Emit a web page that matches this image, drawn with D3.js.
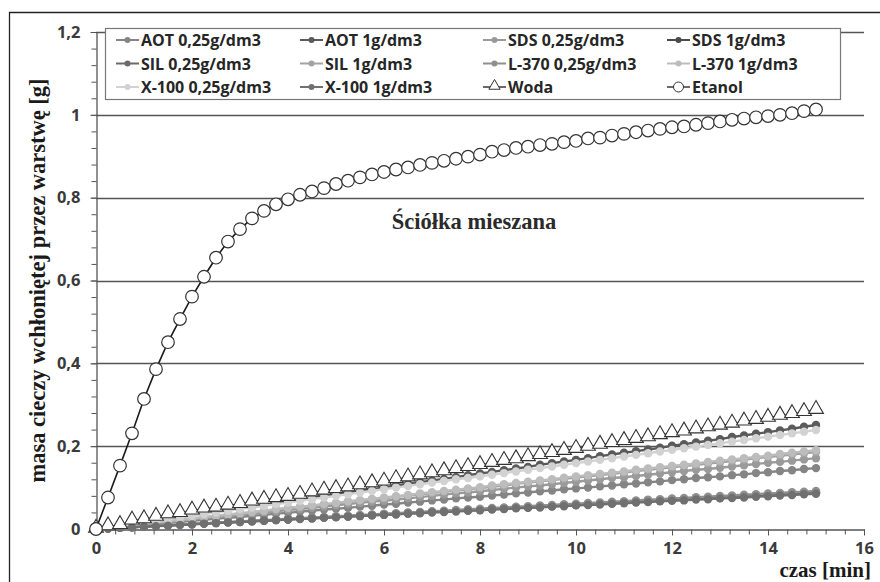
<!DOCTYPE html>
<html><head><meta charset="utf-8">
<script src="https://cdn.jsdelivr.net/npm/d3@7"></script>
<style>body{margin:0;background:#fff}svg{display:block}</style>
</head><body>
<svg id="c" width="880" height="582"></svg>
<script>
const timeStep = 0.25;
const yTicks = [0, 0.2, 0.4, 0.6, 0.8, 1.0, 1.2];
const xTicks = [0, 2, 4, 6, 8, 10, 12, 14, 16];
const seriesNames = ["AOT 0,25g/dm3","AOT 1g/dm3","SDS 0,25g/dm3","SDS 1g/dm3","SIL 0,25g/dm3","SIL 1g/dm3","L-370 0,25g/dm3","L-370 1g/dm3","X-100 0,25g/dm3","X-100 1g/dm3","Woda","Etanol"];

const aot025 = [0,.002,.005,.007,.010,.012,.015,.017,.020,.022,.025,.027,.029,.032,.034,.037,.039,.042,.044,.047,.049,.051,.054,.056,.059,.061,.064,.066,.069,.071,.074,.076,.078,.081,.083,.086,.088,.091,.093,.096,.098,.100,.103,.105,.108,.110,.113,.115,.118,.120,.123,.125,.127,.130,.132,.135,.137,.140,.142,.145,.147];
const aot1 = [0,.004,.008,.013,.017,.021,.025,.029,.033,.038,.042,.046,.050,.054,.059,.063,.067,.071,.075,.079,.084,.088,.092,.096,.100,.105,.109,.113,.117,.121,.125,.130,.134,.138,.142,.146,.150,.155,.159,.163,.167,.171,.176,.180,.184,.188,.192,.196,.201,.205,.209,.213,.217,.222,.226,.230,.234,.238,.242,.247,.251];
const sds025 = [0,.003,.006,.009,.011,.014,.017,.020,.023,.026,.029,.031,.034,.037,.040,.043,.046,.048,.051,.054,.057,.060,.063,.066,.068,.071,.074,.077,.080,.083,.086,.088,.091,.094,.097,.100,.103,.105,.108,.111,.114,.117,.120,.123,.125,.128,.131,.134,.137,.140,.143,.145,.148,.151,.154,.157,.160,.162,.165,.168,.171];
const sds1 = [0,.001,.003,.004,.006,.007,.009,.010,.012,.013,.015,.016,.017,.019,.020,.022,.023,.025,.026,.028,.029,.030,.032,.033,.035,.036,.038,.039,.041,.042,.044,.045,.046,.048,.049,.051,.052,.054,.055,.057,.058,.059,.061,.062,.064,.065,.067,.068,.070,.071,.073,.074,.075,.077,.078,.080,.081,.083,.084,.086,.087];
const sil025 = [0,.001,.003,.004,.006,.007,.009,.010,.012,.013,.015,.016,.018,.019,.021,.022,.024,.025,.027,.028,.030,.031,.033,.034,.036,.037,.039,.040,.042,.043,.045,.046,.047,.049,.050,.052,.053,.055,.056,.058,.059,.061,.062,.064,.065,.067,.068,.070,.071,.073,.074,.076,.077,.079,.080,.082,.083,.085,.086,.088,.089];
const sil1 = [0,.003,.006,.009,.012,.016,.019,.022,.025,.028,.031,.034,.037,.040,.043,.047,.050,.053,.056,.059,.062,.065,.068,.071,.074,.078,.081,.084,.087,.090,.093,.096,.099,.102,.105,.109,.112,.115,.118,.121,.124,.127,.130,.133,.136,.140,.143,.146,.149,.152,.155,.158,.161,.164,.167,.171,.174,.177,.180,.183,.186];
const l370025 = [0,.002,.003,.005,.006,.008,.009,.011,.012,.014,.015,.017,.018,.020,.021,.023,.025,.026,.028,.029,.031,.032,.034,.035,.037,.038,.040,.041,.043,.044,.046,.048,.049,.051,.052,.054,.055,.057,.058,.060,.061,.063,.064,.066,.067,.069,.071,.072,.074,.075,.077,.078,.080,.081,.083,.084,.086,.087,.089,.090,.092];
const l3701 = [0,.003,.006,.010,.013,.016,.019,.022,.025,.029,.032,.035,.038,.041,.044,.048,.051,.054,.057,.060,.063,.067,.070,.073,.076,.079,.082,.086,.089,.092,.095,.098,.101,.105,.108,.111,.114,.117,.120,.124,.127,.130,.133,.136,.139,.143,.146,.149,.152,.155,.158,.162,.165,.168,.171,.174,.177,.181,.184,.187,.190];
const x100025 = [0,.004,.008,.012,.016,.020,.024,.028,.032,.036,.040,.044,.048,.052,.056,.060,.064,.068,.072,.076,.080,.084,.088,.092,.096,.100,.104,.108,.112,.116,.120,.123,.127,.131,.135,.139,.143,.147,.151,.155,.159,.163,.167,.171,.175,.179,.183,.187,.191,.195,.199,.203,.207,.211,.215,.219,.223,.227,.231,.235,.239];
const x1001 = [0,.001,.003,.004,.006,.007,.008,.010,.011,.013,.014,.016,.017,.018,.020,.021,.023,.024,.025,.027,.028,.030,.031,.033,.034,.035,.037,.038,.040,.041,.042,.044,.045,.047,.048,.050,.051,.052,.054,.055,.057,.058,.059,.061,.062,.064,.065,.067,.068,.069,.071,.072,.074,.075,.076,.078,.079,.081,.082,.084,.085];
const woda = [0,.006,.009,.020,.023,.029,.035,.038,.044,.049,.051,.056,.060,.066,.070,.074,.077,.082,.088,.092,.096,.100,.105,.110,.114,.120,.124,.129,.134,.139,.144,.149,.154,.159,.164,.168,.173,.178,.183,.188,.193,.198,.203,.207,.212,.217,.221,.226,.231,.235,.240,.245,.249,.254,.259,.263,.268,.273,.277,.282,.287];
const etanol = [0,.076,.153,.231,.314,.386,.451,.507,.561,.609,.655,.694,.724,.750,.768,.784,.796,.807,.815,.823,.833,.841,.849,.856,.862,.868,.873,.879,.884,.889,.894,.899,.904,.911,.915,.920,.923,.927,.930,.934,.937,.943,.945,.950,.954,.958,.962,.966,.970,.972,.976,.980,.984,.988,.991,.994,.997,1.000,1.004,1.009,1.013];

const seriesValues = [aot025, aot1, sds025, sds1, sil025, sil1, l370025, l3701, x100025, x1001, woda, etanol];
const seriesColors = ["#858585","#5a5a5a","#9a9a9a","#4a4a4a","#6a6a6a","#a3a3a3","#8f8f8f","#bcbcbc","#d2d2d2","#707070","#1a1a1a","#1a1a1a"];
const seriesMarkers = ["dot","dot","dot","dot","dot","dot","dot","dot","dot","dot","tri","circ"];

const svg = d3.select("#c");
const x = d3.scaleLinear().domain([0,16]).range([96,864]);
const y = d3.scaleLinear().domain([0,1.2]).range([529,32]);
const fmt = d => String(+d.toFixed(1)).replace(".", ",");
const sansB = "'Open Sans', 'Liberation Sans', sans-serif";
const serifB = "'Liberation Serif', 'Times New Roman', serif";

// outer frame
svg.append("path").attr("d","M9.5,600V12.5H900").attr("fill","none").attr("stroke","#222").attr("stroke-width",1.3);

// gridlines
svg.append("g").selectAll("line").data(yTicks.filter(d=>d>0)).join("line")
  .attr("x1",x(0)).attr("x2",x(16)).attr("y1",d=>Math.round(y(d))+0.5).attr("y2",d=>Math.round(y(d))+0.5)
  .attr("stroke","#555").attr("stroke-width",1.3);

// minor ticks
const gyMinor = svg.append("g").attr("transform","translate(96.5,0)")
  .call(d3.axisLeft(y).tickValues(d3.range(0,31).map(i=>+(i*0.04).toFixed(2))).tickSize(5).tickFormat(""));
const gxMinor = svg.append("g").attr("transform",`translate(0,${Math.round(y(0))+0.5})`)
  .call(d3.axisBottom(x).tickValues(d3.range(0,41).map(i=>+(i*0.4).toFixed(1))).tickSize(5).tickFormat(""));
[gyMinor,gxMinor].forEach(g=>{g.selectAll("line").attr("stroke","#555");g.select(".domain").remove();});

// axes
const gy = svg.append("g").attr("transform","translate(96.5,0)")
  .call(d3.axisLeft(y).tickValues(yTicks).tickFormat(fmt).tickSize(6).tickPadding(10).tickSizeOuter(0));
const gx = svg.append("g").attr("transform",`translate(0,${Math.round(y(0))+0.5})`)
  .call(d3.axisBottom(x).tickValues(xTicks).tickFormat(fmt).tickSize(6).tickPadding(7).tickSizeOuter(0));
[gy,gx].forEach(g=>{
  g.select(".domain").attr("stroke","#555").attr("stroke-width",1.3);
  g.selectAll(".tick line").attr("stroke","#555");
  g.selectAll("text").attr("font-family",sansB).attr("font-weight",700).attr("font-size",16.5).attr("fill","#3a3a3a");
});

// series
const line = d3.line().x((d,i)=>x(i*timeStep)).y(d=>y(d));
const tri = d3.symbol().type(d3.symbolTriangle).size(95);
seriesValues.forEach((vals,si)=>{
  const g = svg.append("g");
  const m = seriesMarkers[si];
  g.append("path").attr("d",line(vals)).attr("fill","none").attr("stroke",seriesColors[si]).attr("stroke-width", m==="dot"?2.4:1.6);
  if(m==="dot"){
    g.selectAll("circle").data(vals).join("circle").attr("cx",(d,i)=>x(i*timeStep)).attr("cy",d=>y(d)).attr("r",4.2).attr("fill",seriesColors[si]);
  } else if(m==="tri"){
    g.selectAll("path.m").data(vals).join("path").attr("class","m").attr("d",tri)
      .attr("transform",(d,i)=>`translate(${x(i*timeStep)},${y(d)-1})`).attr("fill","#fff").attr("stroke","#333").attr("stroke-width",1.1);
  } else {
    g.selectAll("circle").data(vals).join("circle").attr("cx",(d,i)=>x(i*timeStep)).attr("cy",d=>y(d)).attr("r",6.3).attr("fill","#fff").attr("stroke","#333").attr("stroke-width",1.2);
  }
});

// annotation
svg.append("text").attr("x",474).attr("y",229).attr("text-anchor","middle").attr("font-family",serifB).attr("font-weight",700).attr("font-size",22.5).attr("fill","#2a2a2a").text("Ściółka mieszana");

// axis titles
svg.append("text").attr("transform",`translate(45,${(y(0)+y(1.2))/2}) rotate(-90)`).attr("text-anchor","middle")
  .attr("font-family",serifB).attr("font-weight",700).attr("font-size",22.5).attr("fill","#1a1a1a").text("masa cieczy wchłoniętej przez warstwę [g]");
svg.append("text").attr("x",871).attr("y",577).attr("text-anchor","end")
  .attr("font-family",serifB).attr("font-weight",700).attr("font-size",21).attr("fill","#1a1a1a").text("czas [min]");

// legend
const lg = svg.append("g");
lg.append("rect").attr("x",105.5).attr("y",28.5).attr("width",735).attr("height",71).attr("fill","#fff").attr("stroke","#777").attr("stroke-width",1.2);
const colX = [116, 300, 483, 667];
const rowY = [40, 63.5, 87];
seriesNames.forEach((name,i)=>{
  const cx = colX[i%4], cy = rowY[Math.floor(i/4)];
  const g = lg.append("g").attr("transform",`translate(${cx},${cy})`);
  const m = seriesMarkers[i];
  g.append("line").attr("x1",0).attr("x2",23).attr("stroke",seriesColors[i]).attr("stroke-width",m==="dot"?2:1.3);
  if(m==="dot") g.append("circle").attr("cx",11.5).attr("r",3).attr("fill",seriesColors[i]);
  else if(m==="tri") g.append("path").attr("d",d3.symbol().type(d3.symbolTriangle).size(55)()).attr("transform","translate(11.5,-1)").attr("fill","#fff").attr("stroke","#333");
  else g.append("circle").attr("cx",11.5).attr("r",5).attr("fill","#fff").attr("stroke","#333");
  g.append("text").attr("x",25).attr("y",6).attr("font-family",sansB).attr("font-weight",700).attr("font-size",16).attr("fill","#262626").text(name);
});
</script>
</body></html>
